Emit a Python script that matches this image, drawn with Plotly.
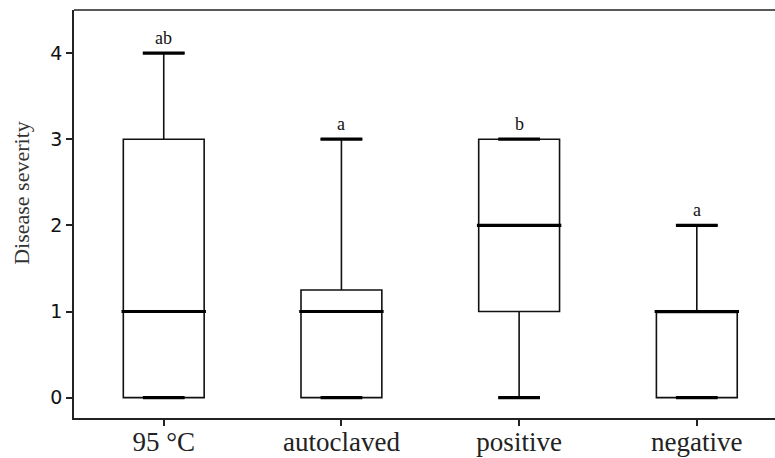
import plotly.graph_objects as go

categories = ["95 \u00b0C", "autoclaved", "positive", "negative"]
lower_fence = [0, 0, 0, 0]
q1 = [0, 0, 1, 0]
median = [1, 1, 2, 1]
q3 = [3, 1.25, 3, 1]
upper_fence = [4, 3, 3, 2]
letters = ["ab", "a", "b", "a"]

pos = list(range(len(categories)))
BOX_W = 0.455
CAP_W = 0.235

fig = go.Figure()
fig.add_trace(go.Box(
    x=pos, q1=q1, median=median, q3=q3,
    lowerfence=lower_fence, upperfence=upper_fence,
    width=BOX_W, whiskerwidth=CAP_W / BOX_W,
    boxpoints=False, fillcolor="white",
    line=dict(color="#111111", width=1.6),
    showlegend=False, hoverinfo="skip",
))

# thick medians
mx, my = [], []
for p, m in zip(pos, median):
    mx += [p - BOX_W / 2 - 0.01, p + BOX_W / 2 + 0.01, None]
    my += [m, m, None]
fig.add_trace(go.Scatter(x=mx, y=my, mode="lines",
                         line=dict(color="#000000", width=3.2),
                         showlegend=False, hoverinfo="skip"))
# thick caps
cx, cy = [], []
for p, lo, hi in zip(pos, lower_fence, upper_fence):
    for v in (lo, hi):
        cx += [p - CAP_W / 2, p + CAP_W / 2, None]
        cy += [v, v, None]
fig.add_trace(go.Scatter(x=cx, y=cy, mode="lines",
                         line=dict(color="#000000", width=3.2),
                         showlegend=False, hoverinfo="skip"))

for p, hi, t in zip(pos, upper_fence, letters):
    fig.add_annotation(x=p, y=hi, text=t, showarrow=False,
                       yanchor="bottom", yshift=3,
                       font=dict(family="Liberation Serif", size=18, color="#111111"))

fig.add_annotation(xref="paper", yref="paper", x=-0.075, y=0.553,
                   text="Disease severity", textangle=-90, showarrow=False,
                   xanchor="center", yanchor="middle",
                   font=dict(family="Liberation Serif", size=22, color="#333333"))

# top frame line
fig.add_shape(type="line", xref="paper", yref="paper", x0=0, x1=1.01, y0=1, y1=1,
              line=dict(color="#222222", width=1.5))

fig.update_layout(
    width=775, height=458,
    margin=dict(l=74, r=0, t=10, b=40, autoexpand=False),
    plot_bgcolor="white", paper_bgcolor="white",
    xaxis=dict(range=[-0.505, 3.44], tickvals=pos, ticktext=categories,
               automargin=False, ticklabelstandoff=-7,
               showline=True, linecolor="#222222", linewidth=1.5, mirror=False,
               ticks="outside", ticklen=6, tickwidth=1.5, tickcolor="#222222",
               showgrid=False, zeroline=False,
               tickfont=dict(family="Liberation Serif", size=27, color="#222222")),
    yaxis=dict(range=[-0.236, 4.5], tickvals=[0, 1, 2, 3, 4],
               automargin=False,
               showline=True, linecolor="#222222", linewidth=1.5, mirror=False,
               ticks="outside", ticklen=6, tickwidth=1.5, tickcolor="#222222",
               showgrid=False, zeroline=False,
               tickfont=dict(family="DejaVu Sans", size=19, color="#111111")),
)

fig.write_html("out.html", config={"displayModeBar": False})
